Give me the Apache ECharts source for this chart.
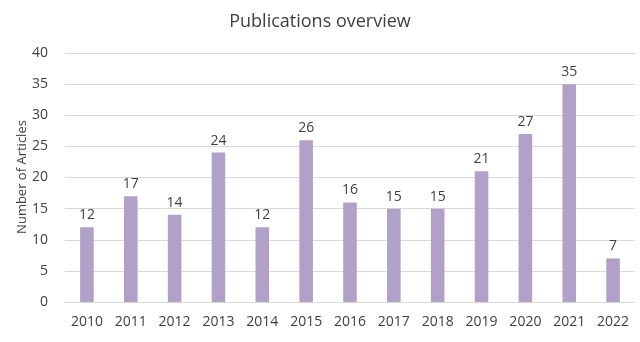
<!DOCTYPE html>
<html>
<head>
<meta charset="utf-8">
<script src="https://cdn.jsdelivr.net/npm/echarts@6/dist/echarts.min.js"></script>
<style>
html, body { margin: 0; padding: 0; background: #fff; }
#chart { width: 640px; height: 342px; }
</style>
</head>
<body>
<div id="chart"></div>
<script>
var years = ['2010', '2011', '2012', '2013', '2014', '2015', '2016', '2017', '2018', '2019', '2020', '2021', '2022'];
var articles = [12, 17, 14, 24, 12, 26, 16, 15, 15, 21, 27, 35, 7];

var chart = echarts.init(document.getElementById('chart'));
var font = '"Open Sans", "Noto Sans", sans-serif';
var option = {
	animation: false,
	title: {
		text: 'Publications overview',
		left: 'center',
		top: 8,
		textStyle: {
			fontFamily: font,
			fontSize: 18,
			fontWeight: 'normal',
			color: '#404040'
		}
	},
	// y axis title, placed by hand so it sits close to the tick labels
	graphic: [{
		type: 'text',
		x: 22,
		y: 177,
		rotation: Math.PI / 2,
		style: {
			text: 'Number of Articles',
			fontFamily: font,
			fontSize: 13,
			fill: '#404040',
			align: 'center',
			verticalAlign: 'middle'
		}
	}],
	grid: {
		left: 65,
		right: 5,
		top: 53,
		bottom: 40
	},
	xAxis: {
		type: 'category',
		data: years,
		axisLine: { lineStyle: { color: '#d9d9d9' } },
		axisTick: { show: false },
		axisLabel: {
			fontFamily: font,
			fontSize: 14,
			color: '#404040',
			margin: 13
		}
	},
	yAxis: {
		type: 'value',
		min: 0,
		max: 40,
		interval: 5,
		axisLine: { show: false },
		axisTick: { show: false },
		splitLine: { lineStyle: { color: '#d9d9d9' } },
		axisLabel: {
			fontFamily: font,
			fontSize: 14,
			color: '#404040',
			margin: 17
		}
	},
	series: [{
		type: 'bar',
		data: articles,
		barWidth: '31%',
		itemStyle: { color: '#b1a1c8' },
		label: {
			show: true,
			position: 'top',
			distance: 5,
			fontFamily: font,
			fontSize: 14,
			color: '#404040'
		}
	}]
};
chart.setOption(option);

window.onresize = function() {
	chart.resize();
};
</script>
</body>
</html>
